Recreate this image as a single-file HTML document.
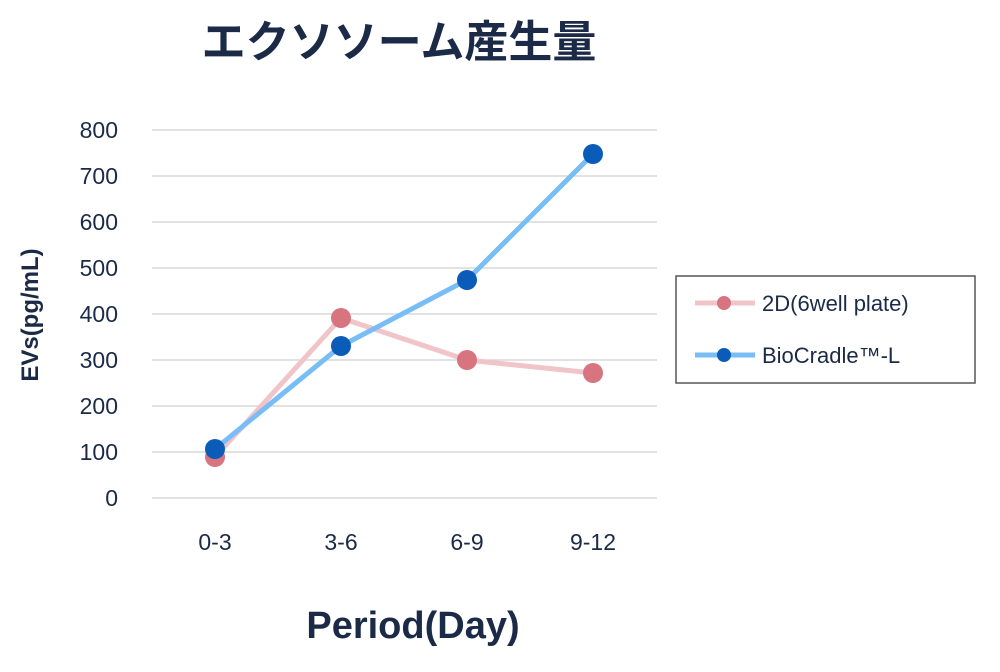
<!DOCTYPE html>
<html><head><meta charset="utf-8"><style>
body{margin:0;background:#fff;}
svg text{font-family:"Liberation Sans","Noto Sans CJK JP",sans-serif;fill:#1b2a47;}
</style></head><body>
<svg width="1000" height="667" viewBox="0 0 1000 667" xmlns="http://www.w3.org/2000/svg">
<text x="399" y="57" text-anchor="middle" font-size="44" font-weight="bold">エクソソーム産生量</text>
<g stroke="#d9d9d9" stroke-width="1.5">
<line x1="152" y1="130" x2="657" y2="130"/><line x1="152" y1="176" x2="657" y2="176"/>
<line x1="152" y1="222" x2="657" y2="222"/><line x1="152" y1="268" x2="657" y2="268"/>
<line x1="152" y1="314" x2="657" y2="314"/><line x1="152" y1="360" x2="657" y2="360"/>
<line x1="152" y1="406" x2="657" y2="406"/><line x1="152" y1="452" x2="657" y2="452"/>
<line x1="152" y1="498" x2="657" y2="498"/>
</g>
<g font-size="23" text-anchor="end">
<text x="118" y="138">800</text><text x="118" y="184">700</text><text x="118" y="230">600</text>
<text x="118" y="276">500</text><text x="118" y="322">400</text><text x="118" y="368">300</text>
<text x="118" y="414">200</text><text x="118" y="460">100</text><text x="118" y="506">0</text>
</g>
<g font-size="23" text-anchor="middle">
<text x="215" y="550">0-3</text><text x="341" y="550">3-6</text><text x="467" y="550">6-9</text><text x="593" y="550">9-12</text>
</g>
<text transform="translate(38,315) rotate(-90)" text-anchor="middle" font-size="24" font-weight="bold">EVs(pg/mL)</text>
<text x="413" y="638" text-anchor="middle" font-size="38" font-weight="bold">Period(Day)</text>
<polyline points="215,457 341,318 467,360 593,373" fill="none" stroke="#f0c4c8" stroke-width="5"/>
<g fill="#d7747f"><circle cx="215" cy="457" r="10"/><circle cx="341" cy="318" r="10"/><circle cx="467" cy="360" r="10"/><circle cx="593" cy="373" r="10"/></g>
<polyline points="215,449 341,346 467,280 593,154" fill="none" stroke="#78bdf5" stroke-width="5"/>
<g fill="#0b5cb8"><circle cx="215" cy="449" r="10"/><circle cx="341" cy="346" r="10"/><circle cx="467" cy="280" r="10"/><circle cx="593" cy="154" r="10"/></g>
<rect x="676" y="276" width="299" height="107" fill="#fff" stroke="#555" stroke-width="1.5"/>
<line x1="695" y1="303" x2="755" y2="303" stroke="#f0c4c8" stroke-width="5"/>
<circle cx="724" cy="303" r="7" fill="#d7747f"/>
<text x="762" y="311" font-size="22">2D(6well plate)</text>
<line x1="695" y1="355" x2="755" y2="355" stroke="#78bdf5" stroke-width="5"/>
<circle cx="724" cy="355" r="7" fill="#0b5cb8"/>
<text x="762" y="363" font-size="22">BioCradle™-L</text>
</svg>
</body></html>
